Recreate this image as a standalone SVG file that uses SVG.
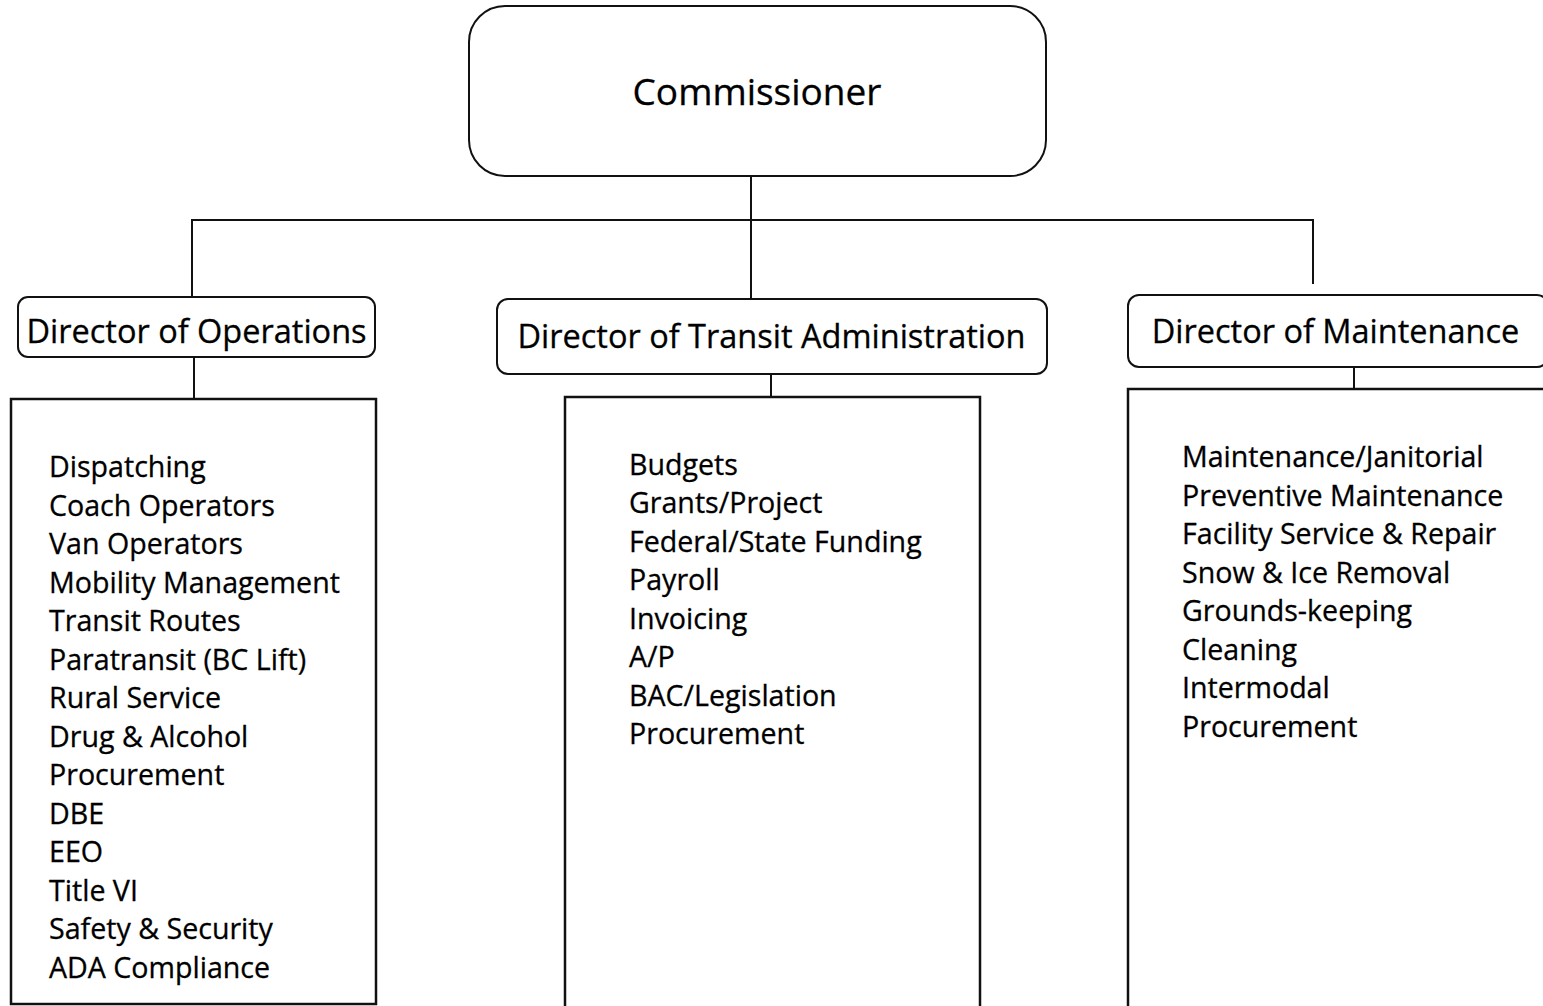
<svg xmlns="http://www.w3.org/2000/svg" width="1543" height="1006" viewBox="0 0 1543 1006">
<style>
.box{fill:#fff;stroke:#111;stroke-width:2}
.list{fill:#fff;stroke:#111;stroke-width:2.5}
.ln{stroke:#111;stroke-width:2;fill:none}
text{font-family:"Open Sans","Noto Sans","Liberation Sans",sans-serif;fill:#000;stroke:#000;stroke-width:0.3}
.t1{font-size:37px}
.t2{font-size:32.5px}
.t3{font-size:28.6px}
</style>
<rect width="1543" height="1006" fill="#fff"/>
<g id="connectors">
<line class="ln" x1="751" y1="176" x2="751" y2="299"/>
<polyline class="ln" points="192,297 192,220 1313,220 1313,284"/>
<line class="ln" x1="194" y1="357" x2="194" y2="399"/>
<line class="ln" x1="771" y1="374" x2="771" y2="397"/>
<line class="ln" x1="1354" y1="362" x2="1354" y2="389"/>
</g>
<g id="commissioner">
<rect class="box" x="469" y="6" width="577" height="170" rx="36"/>
<text class="t1" x="757" y="105" text-anchor="middle">Commissioner</text>
</g>
<g id="dir-ops">
<rect class="box" x="18" y="297" width="357" height="60" rx="10"/>
<text class="t2" x="196.5" y="343" text-anchor="middle">Director of Operations</text>
</g>
<g id="dir-admin">
<rect class="box" x="497" y="299" width="550" height="75" rx="11"/>
<text class="t2" x="771.5" y="348" text-anchor="middle">Director of Transit Administration</text>
</g>
<g id="dir-maint">
<rect class="box" x="1128" y="295" width="420" height="72" rx="11"/>
<text class="t2" x="1335.5" y="343" text-anchor="middle">Director of Maintenance</text>
</g>
<g id="ops-list">
<rect class="list" x="11" y="399" width="365" height="605"/>
<text class="t3">
<tspan x="49" y="477">Dispatching</tspan>
<tspan x="49" y="516">Coach Operators</tspan>
<tspan x="49" y="554">Van Operators</tspan>
<tspan x="49" y="593">Mobility Management</tspan>
<tspan x="49" y="631">Transit Routes</tspan>
<tspan x="49" y="670">Paratransit (BC Lift)</tspan>
<tspan x="49" y="708">Rural Service</tspan>
<tspan x="49" y="747">Drug &amp; Alcohol</tspan>
<tspan x="49" y="785">Procurement</tspan>
<tspan x="49" y="824">DBE</tspan>
<tspan x="49" y="862">EEO</tspan>
<tspan x="49" y="901">Title VI</tspan>
<tspan x="49" y="939">Safety &amp; Security</tspan>
<tspan x="49" y="978">ADA Compliance</tspan>
</text>
</g>
<g id="admin-list">
<rect class="list" x="565" y="397" width="415" height="615"/>
<text class="t3">
<tspan x="629" y="475">Budgets</tspan>
<tspan x="629" y="513">Grants/Project</tspan>
<tspan x="629" y="552">Federal/State Funding</tspan>
<tspan x="629" y="590">Payroll</tspan>
<tspan x="629" y="629">Invoicing</tspan>
<tspan x="629" y="667">A/P</tspan>
<tspan x="629" y="706">BAC/Legislation</tspan>
<tspan x="629" y="744">Procurement</tspan>
</text>
</g>
<g id="maint-list">
<rect class="list" x="1128" y="389" width="420" height="625"/>
<text class="t3">
<tspan x="1182" y="467">Maintenance/Janitorial</tspan>
<tspan x="1182" y="506">Preventive Maintenance</tspan>
<tspan x="1182" y="544">Facility Service &amp; Repair</tspan>
<tspan x="1182" y="583">Snow &amp; Ice Removal</tspan>
<tspan x="1182" y="621">Grounds-keeping</tspan>
<tspan x="1182" y="660">Cleaning</tspan>
<tspan x="1182" y="698">Intermodal</tspan>
<tspan x="1182" y="737">Procurement</tspan>
</text>
</g>
</svg>
